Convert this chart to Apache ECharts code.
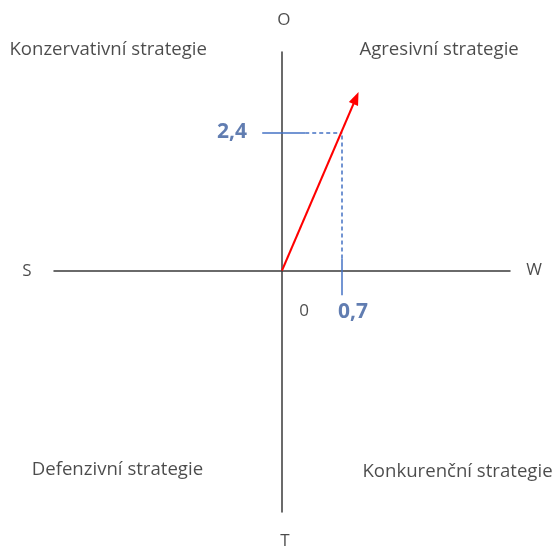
<!DOCTYPE html>
<html>
<head>
<meta charset="utf-8">
<script src="https://cdn.jsdelivr.net/npm/echarts@6/dist/echarts.min.js"></script>
<style>html,body{margin:0;padding:0;background:#fff}#c{width:555px;height:547px}</style>
</head>
<body>
<div id="c"></div>
<script>
// ---- data ----
const quadrantNames = ['Konzervativní strategie', 'Agresivní strategie', 'Defenzivní strategie', 'Konkurenční strategie'];
const axisLetters = ['O', 'W', 'T', 'S'];
const originLabel = '0';
const vectorPoint = [0.7, 2.4];      // W, O
const vectorTip = [0.86, 3.0];       // arrow end
const pointLabels = ['0,7', '2,4'];

// ---- layout / style ----
const FONT = '"Open Sans", sans-serif';
const TXT = '#1e1e1e';
const BLUE = '#4472C4';
const BLUE_TXT = '#3A5C9E';

function textPoint(pos, text, size, color, weight) {
  return {
    value: pos,
    label: { show: true, position: 'inside', formatter: text, fontSize: size, color: color, fontWeight: weight || 'normal', fontFamily: FONT }
  };
}

const labels = [
  textPoint([-2.02, 3.835], quadrantNames[0], 18.6, TXT),
  textPoint([1.826, 3.835], quadrantNames[1], 18.6, TXT),
  textPoint([-1.913, -3.47], quadrantNames[2], 18.6, TXT),
  textPoint([2.04, -3.504], quadrantNames[3], 18.6, TXT),
  textPoint([0.023, 4.357], axisLetters[0], 17, TXT),
  textPoint([2.93, 0.01], axisLetters[1], 17, TXT),
  textPoint([0.035, -4.70], axisLetters[2], 17, TXT),
  textPoint([-2.965, -0.01], axisLetters[3], 17, TXT),
  textPoint([0.256, -0.704], originLabel, 17, TXT),
  textPoint([vectorPoint[0] + 0.126, -0.722], pointLabels[0], 21, BLUE_TXT, 'bold'),
  textPoint([-0.581, vectorPoint[1] + 0.009], pointLabels[1], 21, BLUE_TXT, 'bold')
];

const solidBlue = { color: BLUE, width: 1.5, type: 'solid' };
const dashBlue = { color: BLUE, width: 1.5, type: [4, 3] };

const option = {
  animation: false,
  grid: { left: 54, right: 45, top: 52, bottom: 35 },
  xAxis: {
    type: 'value', min: -2.65, max: 2.65,
    axisLine: { show: true, onZero: true, lineStyle: { color: '#3a3a3a', width: 1.5 } },
    axisTick: { show: false }, axisLabel: { show: false }, splitLine: { show: false }
  },
  yAxis: {
    type: 'value', min: -4.2, max: 3.8,
    axisLine: { show: true, onZero: true, lineStyle: { color: '#3a3a3a', width: 1.5 } },
    axisTick: { show: false }, axisLabel: { show: false }, splitLine: { show: false }
  },
  series: [
    {
      type: 'scatter',
      clip: false,
      silent: true,
      symbolSize: 1,
      itemStyle: { color: 'rgba(0,0,0,0)' },
      labelLayout: { hideOverlap: false },
      data: labels,
      markLine: {
        silent: true,
        animation: false,
        label: { show: false },
        data: [
          [{ coord: [-0.23, vectorPoint[1]], symbol: 'none', lineStyle: solidBlue }, { coord: [0.27, vectorPoint[1]], symbol: 'none' }],
          [{ coord: [0.27, vectorPoint[1]], symbol: 'none', lineStyle: dashBlue }, { coord: [vectorPoint[0], vectorPoint[1]], symbol: 'none' }],
          [{ coord: [vectorPoint[0], -0.43], symbol: 'none', lineStyle: solidBlue }, { coord: [vectorPoint[0], 0.21], symbol: 'none' }],
          [{ coord: [vectorPoint[0], 0.21], symbol: 'none', lineStyle: dashBlue }, { coord: [vectorPoint[0], vectorPoint[1]], symbol: 'none' }],
          [{ coord: [0, 0], symbol: 'none', lineStyle: { color: '#FF0000', width: 2, type: 'solid' } },
           { coord: vectorTip, symbol: 'triangle', symbolSize: [10, 13] }]
        ]
      }
    }
  ]
};

const chart = echarts.init(document.getElementById('c'), null, { renderer: 'canvas' });
chart.setOption(option);
</script>
</body>
</html>
